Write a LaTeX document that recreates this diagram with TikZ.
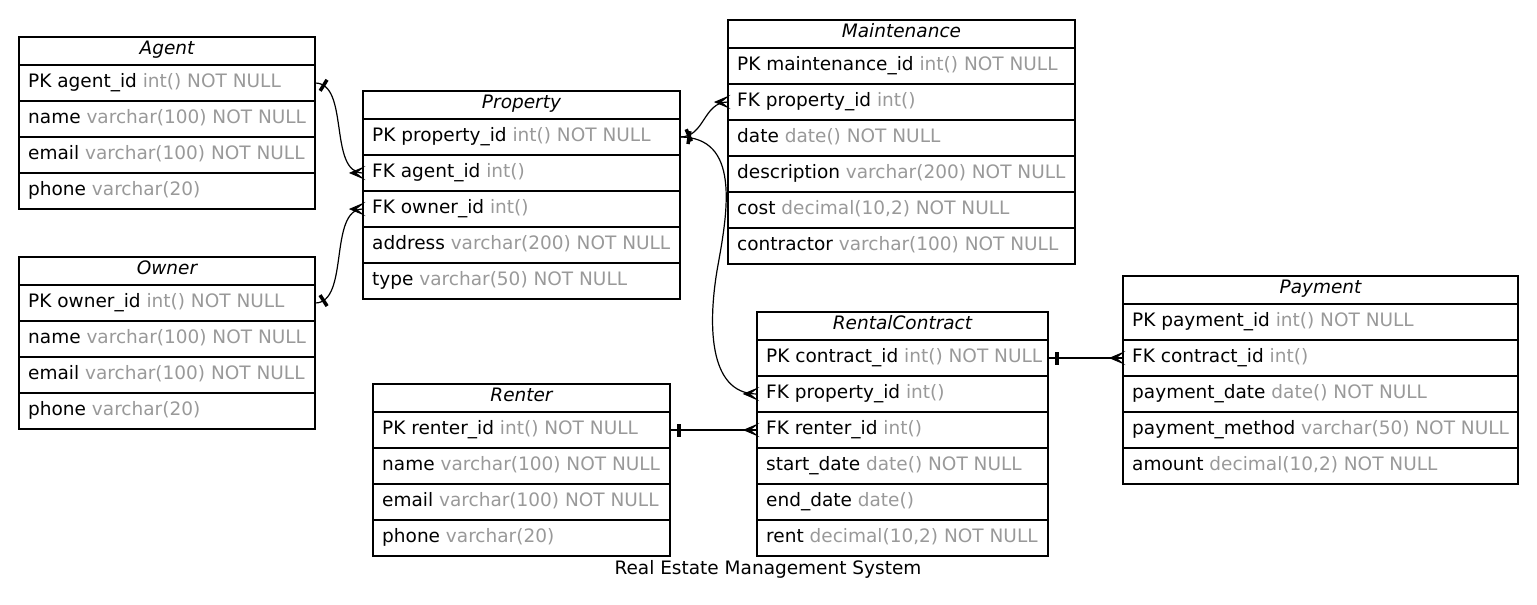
\documentclass[tikz,border=0pt]{standalone}
\usepackage{fontspec}
\setmainfont{DejaVu Sans}
\usetikzlibrary{calc,decorations.markings}
\definecolor{typegray}{RGB}{153,153,153}
\tikzset{
  titlebox/.style={draw, line width=1.3pt, rectangle, inner sep=0pt, outer sep=0pt, minimum height=28pt, anchor=north west},
  rowbox/.style={draw, line width=1.3pt, rectangle, inner sep=0pt, outer sep=0pt, minimum height=36pt, anchor=north west},
  titletxt/.style={anchor=base, inner sep=0pt, font=\fontsize{18.5}{22}\selectfont\itshape},
  rowtxt/.style={anchor=base west, inner sep=0pt, font=\fontsize{18.5}{22}\selectfont},
  rel/.style={line width=1.2pt, postaction={decorate}, decoration={markings,
    mark=at position 9pt with {\draw[line width=3.5pt] (0pt,-6.5pt) -- (0pt,6.5pt);},
    mark=at position 0.999 with {\filldraw[line width=0.8pt, line join=miter] (-13pt,0pt) -- (0pt,5.5pt) -- (-7pt,0pt) -- (0pt,-5.5pt) -- cycle;}}}
}
\newcommand\ertitle[5]{%
  \node[titlebox, minimum width=#4] (#1) at (#2,#3) {};
  \node[titletxt] (#1-t) at ($(#1.north)+(0,17.5)$) {#5};}
\newcommand\errow[6]{%
  \node[rowbox, minimum width=#4] (#1) at (#2,#3) {};
  \node[rowtxt] (#1-t) at ($(#1.north west)+(9,22)$) {#5 \textcolor{typegray}{#6}};}
\begin{document}
\begin{tikzpicture}[x=1pt,y=-1pt]
\useasboundingbox (0,0) rectangle (1537,605);
% Agent
\ertitle{agent}{19}{37}{296}{Agent}
\errow{agent-pk}{19}{65}{296}{PK agent\_id}{int() NOT NULL}
\errow{agent-r2}{19}{101}{296}{name}{varchar(100) NOT NULL}
\errow{agent-r3}{19}{137}{296}{email}{varchar(100) NOT NULL}
\errow{agent-r4}{19}{173}{296}{phone}{varchar(20)}
% Owner
\ertitle{owner}{19}{257}{296}{Owner}
\errow{owner-pk}{19}{285}{296}{PK owner\_id}{int() NOT NULL}
\errow{owner-r2}{19}{321}{296}{name}{varchar(100) NOT NULL}
\errow{owner-r3}{19}{357}{296}{email}{varchar(100) NOT NULL}
\errow{owner-r4}{19}{393}{296}{phone}{varchar(20)}
% Property
\ertitle{prop}{363}{91}{317}{Property}
\errow{prop-pk}{363}{119}{317}{PK property\_id}{int() NOT NULL}
\errow{prop-fk1}{363}{155}{317}{FK agent\_id}{int()}
\errow{prop-fk2}{363}{191}{317}{FK owner\_id}{int()}
\errow{prop-r4}{363}{227}{317}{address}{varchar(200) NOT NULL}
\errow{prop-r5}{363}{263}{317}{type}{varchar(50) NOT NULL}
% Maintenance
\ertitle{mnt}{728}{20}{347}{Maintenance}
\errow{mnt-pk}{728}{48}{347}{PK maintenance\_id}{int() NOT NULL}
\errow{mnt-fk}{728}{84}{347}{FK property\_id}{int()}
\errow{mnt-r3}{728}{120}{347}{date}{date() NOT NULL}
\errow{mnt-r4}{728}{156}{347}{description}{varchar(200) NOT NULL}
\errow{mnt-r5}{728}{192}{347}{cost}{decimal(10,2) NOT NULL}
\errow{mnt-r6}{728}{228}{347}{contractor}{varchar(100) NOT NULL}
% RentalContract
\ertitle{rc}{757}{312}{291}{RentalContract}
\errow{rc-pk}{757}{340}{291}{PK contract\_id}{int() NOT NULL}
\errow{rc-fk1}{757}{376}{291}{FK property\_id}{int()}
\errow{rc-fk2}{757}{412}{291}{FK renter\_id}{int()}
\errow{rc-r4}{757}{448}{291}{start\_date}{date() NOT NULL}
\errow{rc-r5}{757}{484}{291}{end\_date}{date()}
\errow{rc-r6}{757}{520}{291}{rent}{decimal(10,2) NOT NULL}
% Renter
\ertitle{renter}{373}{384}{297}{Renter}
\errow{renter-pk}{373}{412}{297}{PK renter\_id}{int() NOT NULL}
\errow{renter-r2}{373}{448}{297}{name}{varchar(100) NOT NULL}
\errow{renter-r3}{373}{484}{297}{email}{varchar(100) NOT NULL}
\errow{renter-r4}{373}{520}{297}{phone}{varchar(20)}
% Payment
\ertitle{pay}{1123}{276}{395}{Payment}
\errow{pay-pk}{1123}{304}{395}{PK payment\_id}{int() NOT NULL}
\errow{pay-fk}{1123}{340}{395}{FK contract\_id}{int()}
\errow{pay-r3}{1123}{376}{395}{payment\_date}{date() NOT NULL}
\errow{pay-r4}{1123}{412}{395}{payment\_method}{varchar(50) NOT NULL}
\errow{pay-r5}{1123}{448}{395}{amount}{decimal(10,2) NOT NULL}
% caption
\node[rowtxt, anchor=base] (caption) at (768,574) {Real Estate Management System};
% relations
\coordinate (wp) at (718,265);
\draw[rel] (agent-pk.east) .. controls +(35,0) and +(-35,0) .. (prop-fk1.west);
\draw[rel] (owner-pk.east) .. controls +(35,0) and +(-35,0) .. (prop-fk2.west);
\draw[rel] (prop-pk.east) .. controls +(25,0) and +(-25,0) .. (mnt-fk.west);
\draw[rel] (prop-pk.east) .. controls +(60,0) and +(10,-55) .. (wp) .. controls +(-10,55) and +(-50,0) .. (rc-fk1.west);
\draw[rel] (renter-pk.east) -- (rc-fk2.west);
\draw[rel] (rc-pk.east) -- (pay-fk.west);
\end{tikzpicture}
\end{document}
